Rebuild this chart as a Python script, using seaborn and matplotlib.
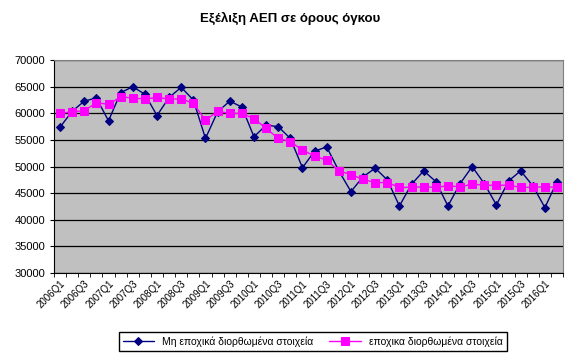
import numpy as np
import pandas as pd
import matplotlib
matplotlib.use('Agg')
import matplotlib.pyplot as plt
import seaborn as sns

# quarters 2006Q1 .. 2016Q2
quarters = [f"{y}Q{q}" for y in range(2006, 2017) for q in range(1, 5)][:42]

# non seasonally adjusted
nsa = [57400, 60400, 62300, 62900, 58600, 63900, 65000, 63600, 59600, 63000,
       64900, 62500, 55300, 60300, 62300, 61200, 55600, 57800, 57500, 55300,
       49800, 52900, 53700, 49200, 45300, 48100, 49700, 47500, 42600, 46700,
       49200, 47200, 42600, 46800, 50000, 46800, 42800, 47300, 49200, 46400,
       42300, 47200]

# seasonally adjusted
sa = [60000, 60300, 60500, 62000, 61700, 63100, 62900, 62700, 63000, 62700,
      62700, 61900, 58700, 60400, 60000, 60000, 59000, 57200, 55300, 54700,
      53100, 52000, 51200, 49200, 48500, 47600, 47000, 47000, 46100, 46100,
      46200, 46100, 46400, 46200, 46700, 46500, 46500, 46500, 46100, 46100,
      46200, 46100]

df = pd.DataFrame({'q': quarters, 'x': np.arange(len(quarters)), 'nsa': nsa, 'sa': sa})

sns.set_style('white')
plt.rcParams['font.family'] = ['Liberation Sans', 'DejaVu Sans']
plt.rcParams['text.color'] = 'black'
plt.rcParams['xtick.color'] = 'black'
plt.rcParams['ytick.color'] = 'black'

fig = plt.figure(figsize=(5.74, 3.56), dpi=100)
ax = fig.add_axes([0.094, 0.233, 0.887, 0.598])
ax.set_facecolor('#C0C0C0')

sns.lineplot(x='x', y='nsa', data=df, ax=ax, color='#000080', marker='D',
             markersize=4.3, linewidth=1, markeredgecolor='#000080',
             label='Μη εποχικά διορθωμένα στοιχεία')
sns.lineplot(x='x', y='sa', data=df, ax=ax, color='#FF00FF', marker='s',
             markersize=5.3, linewidth=1, markeredgecolor='#FF00FF',
             label='εποχικα διορθωμένα στοιχεία')

ax.set_ylim(30000, 70000)
ax.set_yticks(range(30000, 70001, 5000))
ax.set_xlim(-0.5, len(quarters) - 0.5)
ax.set_xticks(df['x'][::2])
ax.set_xticklabels(df['q'][::2], rotation=45, ha='right', rotation_mode='anchor', fontsize=7)
ax.set_xticks(np.arange(-0.5, len(quarters), 1), minor=True)
ax.tick_params(axis='x', which='major', length=0, pad=4)
ax.tick_params(axis='x', which='minor', length=3, color='black', direction='out', bottom=True)
ax.tick_params(axis='y', length=3, color='black', direction='out', left=True, labelsize=8)
ax.yaxis.grid(True, color='black', linewidth=0.9)
ax.set_axisbelow(True)
for s in ['top', 'right']:
    ax.spines[s].set_color('#808080')
for s in ['left', 'bottom']:
    ax.spines[s].set_color('black')
ax.set_xlabel('')
ax.set_ylabel('')

h, l = ax.get_legend_handles_labels()
ax.legend_.remove()
fig.legend(h, l, loc='center', bbox_to_anchor=(0.545, 0.04), ncol=2, fontsize=7.5,
           frameon=True, fancybox=False, edgecolor='black', framealpha=1,
           handlelength=3, columnspacing=1.5, borderpad=0.4)

fig.suptitle('Εξέλιξη ΑΕΠ σε όρους όγκου', x=0.505, y=0.965, fontsize=9.5, fontweight='bold')

plt.savefig('out.png', dpi=100)
